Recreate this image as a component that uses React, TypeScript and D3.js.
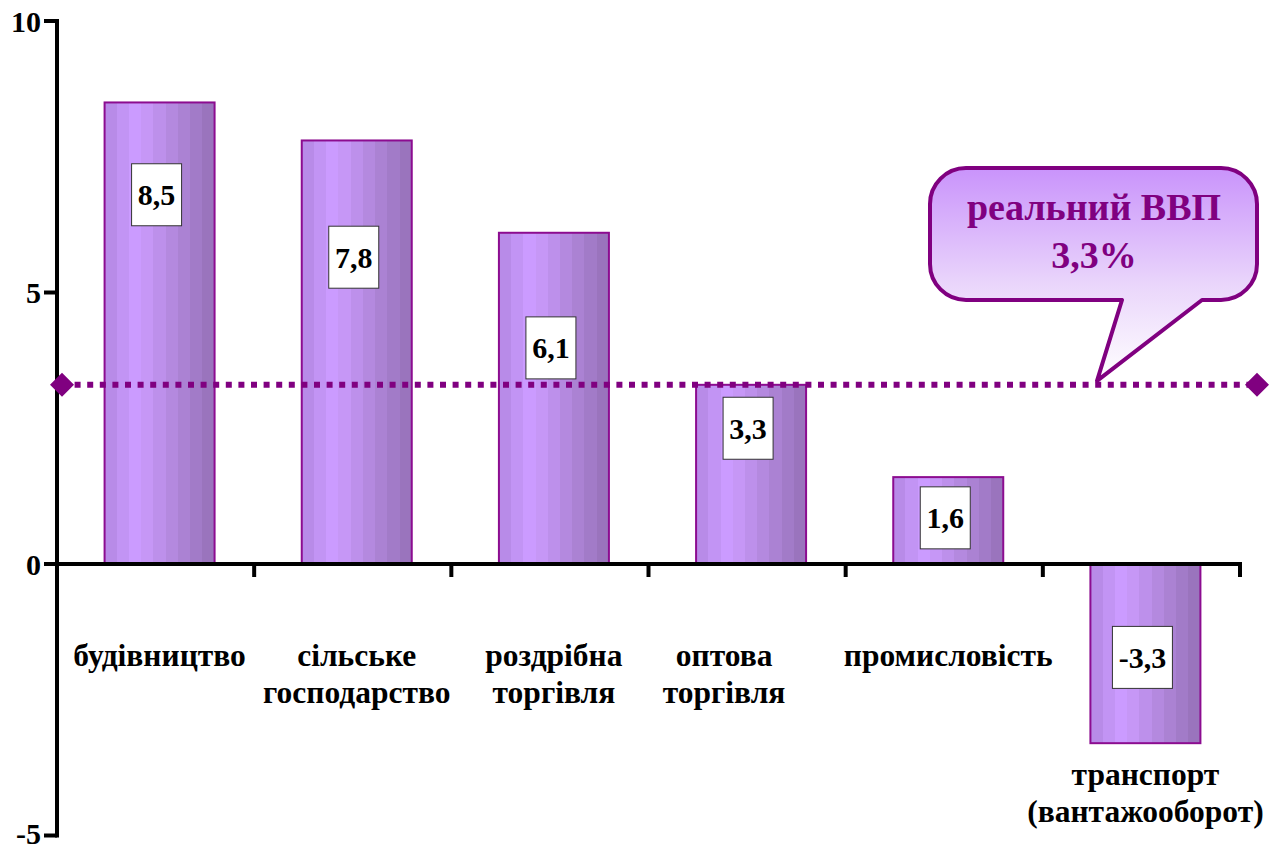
import React from "react";
import * as d3 from "d3";

const categories: string[][] = [
  ["будівництво"],
  ["сільське", "господарство"],
  ["роздрібна", "торгівля"],
  ["оптова", "торгівля"],
  ["промисловість"],
  ["транспорт", "(вантажооборот)"],
];
const values: number[] = [8.5, 7.8, 6.1, 3.3, 1.6, -3.3];
const valueLabels: string[] = ["8,5", "7,8", "6,1", "3,3", "1,6", "-3,3"];
// vertical anchor (in value units) of each value box
const labelAnchor: number[] = [6.8, 5.65, 3.98, 2.5, 0.85, -1.72];
const yTicks: number[] = [10, 5, 0, -5];
const gdpValue = 3.3;
const calloutLines: string[] = ["реальний ВВП", "3,3%"];

const W = 1276;
const H = 849;
const FONT = '"Liberation Serif", "FreeSerif", "Tinos", serif';
const PURPLE = "#800080";

export default function App() {
  const x0 = 57;
  const x1 = 1240;
  const y = d3.scaleLinear().domain([-5, 10]).range([835.5, 21]);
  const x = d3
    .scaleBand<number>()
    .domain(values.map((_, i) => i))
    .range([x0, x1])
    .paddingInner(0)
    .paddingOuter(0);
  const bw = x.bandwidth();
  const barW = 110;
  const barCenter = (i: number) => (x(i) as number) + bw / 2 + 4;

  const stripeColors = [
    "#b88be8",
    "#c294f4",
    "#cb9bff",
    "#c697f6",
    "#bd90eb",
    "#b489df",
    "#ab82d3",
    "#a27bc8",
    "#9a74bd",
  ];
  const n = stripeColors.length;

  // callout geometry
  const cL = 930,
    cR = 1257,
    cT = 168,
    cB = 300,
    r = 36;
  const tipX = 1097;
  const tipY = y(gdpValue) - 4;
  const calloutPath = [
    `M ${cL + r} ${cT}`,
    `H ${cR - r}`,
    `A ${r} ${r} 0 0 1 ${cR} ${cT + r}`,
    `V ${cB - r}`,
    `A ${r} ${r} 0 0 1 ${cR - r} ${cB}`,
    `H 1202`,
    `L ${tipX} ${tipY}`,
    `L 1122 ${cB}`,
    `H ${cL + r}`,
    `A ${r} ${r} 0 0 1 ${cL} ${cB - r}`,
    `V ${cT + r}`,
    `A ${r} ${r} 0 0 1 ${cL + r} ${cT}`,
    "Z",
  ].join(" ");

  const diamond = (cx: number, cy: number, s: number) =>
    `M ${cx - s} ${cy} L ${cx} ${cy - s} L ${cx + s} ${cy} L ${cx} ${cy + s} Z`;

  const y0 = y(0);

  return (
    <svg
      width={W}
      height={H}
      fontFamily={FONT}
      style={{ position: "absolute", left: 0, top: 0, background: "#fff" }}
    >
      <style>{`text, tspan { font-family: "Liberation Serif", "FreeSerif", serif !important; font-weight: bold; }`}</style>
      <defs>
        <linearGradient id="barGrad" x1="0" x2="1" y1="0" y2="0">
          {stripeColors.map((c, i) => (
            <React.Fragment key={i}>
              <stop offset={i / n} stopColor={c} />
              <stop offset={(i + 1) / n} stopColor={c} />
            </React.Fragment>
          ))}
        </linearGradient>
        <linearGradient id="calloutGrad" x1="0" x2="0" y1="0" y2="1">
          <stop offset="0" stopColor="#c993fb" />
          <stop offset="0.55" stopColor="#ead6fb" />
          <stop offset="1" stopColor="#ffffff" />
        </linearGradient>
      </defs>

      {/* bars */}
      {values.map((v, i) => {
        const cx = barCenter(i);
        const top = y(Math.max(0, v));
        const bot = y(Math.min(0, v));
        return (
          <rect
            key={i}
            x={cx - barW / 2}
            y={top}
            width={barW}
            height={bot - top}
            fill="url(#barGrad)"
            stroke="#8c0c90"
            strokeWidth={2}
          />
        );
      })}

      {/* y axis */}
      <line x1={x0} x2={x0} y1={y(10) - 2} y2={y(-5) + 2} stroke="#000" strokeWidth={4} />
      {yTicks.map((t) => (
        <g key={t}>
          <line x1={x0 - 13} x2={x0} y1={y(t)} y2={y(t)} stroke="#000" strokeWidth={4} />
          <text
            x={41}
            y={t === -5 ? y(t) - 2 : y(t)}
            dy="0.35em"
            textAnchor="end"
            fontSize={30}
            fontFamily={FONT}
            fontWeight="bold"
          >
            {t}
          </text>
        </g>
      ))}

      {/* x axis */}
      <line x1={x0 - 13} x2={x1 + 2} y1={y0} y2={y0} stroke="#000" strokeWidth={4} />
      {values.map((_, i) => {
        const tx = (x(i) as number) + bw;
        return (
          <line key={i} x1={tx} x2={tx} y1={y0} y2={y0 + 13} stroke="#000" strokeWidth={4} />
        );
      })}

      {/* category labels */}
      {categories.map((lines, i) => {
        const cx = barCenter(i) + (i === 3 ? -27 : 0);
        const baseY = values[i] < 0 ? y(values[i]) + 42 : 666;
        return (
          <text
            key={i}
            textAnchor="middle"
            fontSize={31.5}
            fontFamily={FONT}
            fontWeight="bold"
            fill="#000"
          >
            {lines.map((l, j) => (
              <tspan key={j} x={cx} y={baseY + j * 37}>
                {l}
              </tspan>
            ))}
          </text>
        );
      })}

      {/* value boxes */}
      {values.map((v, i) => {
        const cx = barCenter(i) - 3;
        const cy = y(labelAnchor[i]);
        const bwid = v < 0 ? 60 : 50;
        return (
          <g key={i}>
            <rect
              x={cx - bwid / 2}
              y={cy - 31}
              width={bwid}
              height={62}
              fill="#fff"
              stroke="#333"
              strokeWidth={1}
            />
            <text
              x={cx}
              y={cy}
              dy="0.35em"
              textAnchor="middle"
              fontSize={30}
              fontFamily={FONT}
              fontWeight="bold"
              fill="#000"
            >
              {valueLabels[i]}
            </text>
          </g>
        );
      })}

      {/* GDP dotted line */}
      <line
        x1={62}
        x2={1257}
        y1={y(gdpValue)}
        y2={y(gdpValue)}
        stroke={PURPLE}
        strokeWidth={6}
        strokeDasharray="6 6.6"
      />
      <path d={diamond(62, y(gdpValue), 12)} fill={PURPLE} />
      <path d={diamond(1257, y(gdpValue), 12)} fill={PURPLE} />

      {/* callout */}
      <path d={calloutPath} fill="url(#calloutGrad)" stroke={PURPLE} strokeWidth={4} strokeLinejoin="round" />
      {calloutLines.map((l, j) => (
        <text
          key={j}
          x={1094}
          y={220 + j * 48}
          textAnchor="middle"
          fontSize={38}
          fontFamily={FONT}
          fontWeight="bold"
          fill={PURPLE}
        >
          {l}
        </text>
      ))}
    </svg>
  );
}
